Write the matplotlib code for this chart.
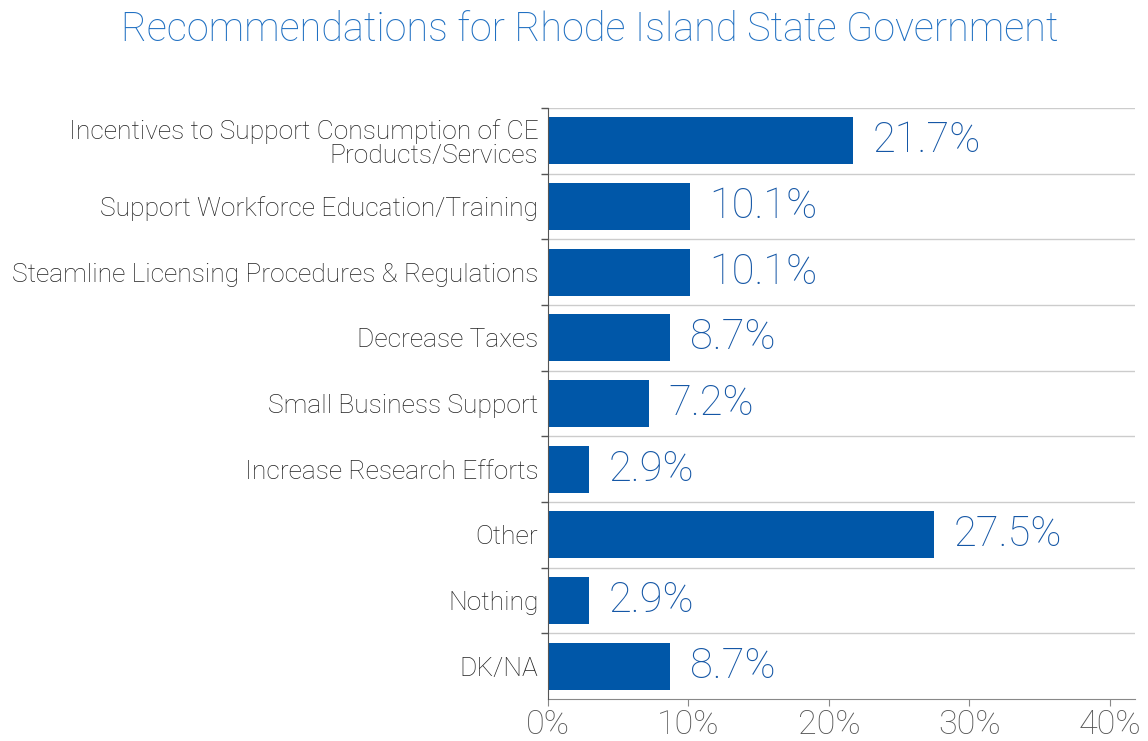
import matplotlib
matplotlib.use("Agg")
import matplotlib.pyplot as plt

categories = [
    "Incentives to Support Consumption of CE\nProducts/Services",
    "Support Workforce Education/Training",
    "Steamline Licensing Procedures & Regulations",
    "Decrease Taxes",
    "Small Business Support",
    "Increase Research Efforts",
    "Other",
    "Nothing",
    "DK/NA",
]
values = [21.7, 10.1, 10.1, 8.7, 7.2, 2.9, 27.5, 2.9, 8.7]
value_labels = ["21.7%", "10.1%", "10.1%", "8.7%", "7.2%", "2.9%", "27.5%", "2.9%", "8.7%"]
xticks = [0, 10, 20, 30, 40]
xtick_labels = ["0%", "10%", "20%", "30%", "40%"]
title = "Recommendations for Rhode Island State Government"

plt.rcParams['font.family'] = ['Roboto', 'DejaVu Sans']
plt.rcParams['font.weight'] = 'light'

fig = plt.figure(figsize=(11.48, 7.41), dpi=100)
ax = fig.add_axes([548/1148, 1 - 699/741, (1135 - 548)/1148, (699 - 108)/741])

n = len(categories)
ypos = list(range(n))
ax.barh(ypos, values, height=0.72, color="#0057a8", zorder=3)
ax.set_ylim(n - 0.5, -0.5)
ax.set_xlim(0, 41.8)

for y, v, lab in zip(ypos, values, value_labels):
    ax.annotate(lab, (v, y), xytext=(14, 0), textcoords="offset points",
                ha="left", va="center", fontsize=30, color="#1557a6",
                fontweight="light")

ax.set_yticks(ypos)
ax.set_yticklabels(categories, fontsize=19, color="#222222", fontweight="light",
                   linespacing=1.0)
ax.tick_params(axis="y", which="major", length=0, pad=7)
ax.set_yticks([i + 0.5 for i in range(-1, n - 1)], minor=True)
ax.tick_params(axis="y", which="minor", length=5, color="#555555", width=1)

ax.set_xticks(xticks)
ax.set_xticklabels(xtick_labels, fontsize=24.5, color="#555555", fontweight="light")
ax.tick_params(axis="x", which="major", length=5, color="#888888", pad=2)

for i in range(-1, n - 1):
    ax.axhline(i + 0.5, color="#cccccc", lw=1, zorder=1)

for s in ["top", "right"]:
    ax.spines[s].set_visible(False)
ax.spines["left"].set_color("#555555")
ax.spines["bottom"].set_color("#888888")
ax.spines["left"].set_zorder(4)

fig.text(590/1148, 1 - 30/741, title, ha="center", va="center",
         fontsize=28.5, color="#2070c2", fontweight="light")

fig.savefig("out.png", dpi=100, facecolor="white")
